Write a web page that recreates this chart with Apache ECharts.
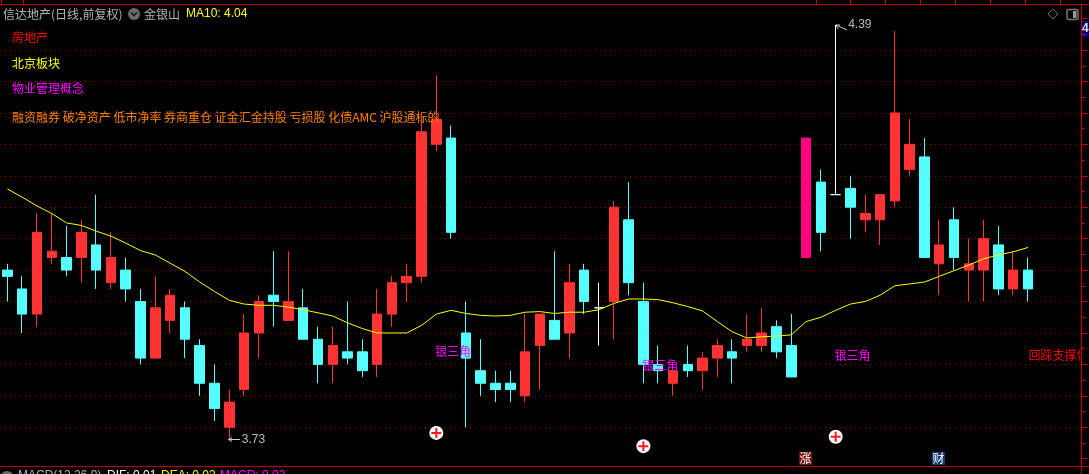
<!DOCTYPE html>
<html><head><meta charset="utf-8">
<style>html,body{margin:0;padding:0;background:#000;overflow:hidden}#c{width:1089px;height:474px}</style>
<script src="https://cdn.jsdelivr.net/npm/echarts@6/dist/echarts.min.js"></script>
</head><body><div id="c"></div>
<script>
const opens=[4.00,3.97,3.93,4.02,4.02,4.02,4.04,3.98,4.00,3.95,3.86,3.92,3.94,3.88,3.82,3.75,3.81,3.90,3.96,3.92,3.94,3.89,3.85,3.87,3.87,3.85,3.93,3.98,3.99,4.20,4.21,3.90,3.84,3.82,3.82,3.80,3.88,3.92,3.90,4.00,3.94,3.95,4.08,3.95,3.85,3.82,3.85,3.84,3.86,3.87,3.88,3.88,3.91,3.88,4.02,4.14,4.12,4.13,4.08,4.08,4.11,4.16,4.18,4.01,4.08,4.00,4.00,4.04,3.97,4.00];
const closes=[3.99,3.93,4.06,4.03,4.00,4.06,4.00,4.02,3.97,3.86,3.94,3.96,3.89,3.82,3.78,3.79,3.90,3.95,3.95,3.95,3.89,3.85,3.88,3.86,3.84,3.93,3.98,3.99,4.22,4.24,4.06,3.86,3.82,3.81,3.81,3.87,3.93,3.89,3.98,3.95,3.94,4.10,3.98,3.85,3.84,3.84,3.84,3.86,3.88,3.86,3.89,3.90,3.87,3.83,4.21,4.06,4.12,4.10,4.09,4.12,4.25,4.20,4.02,4.04,4.02,4.01,4.05,3.97,4.00,3.97];
const lows=[3.95,3.90,3.91,4.01,3.99,3.98,3.97,3.97,3.95,3.85,3.86,3.90,3.86,3.80,3.76,3.73,3.80,3.86,3.91,3.92,3.89,3.82,3.82,3.85,3.83,3.83,3.91,3.95,3.98,4.19,4.05,3.75,3.80,3.79,3.79,3.79,3.81,3.89,3.86,3.93,3.88,3.89,3.96,3.82,3.82,3.80,3.83,3.81,3.83,3.82,3.87,3.87,3.86,3.83,4.02,4.03,4.12,4.05,4.06,4.04,4.10,4.15,4.02,3.96,4.00,3.95,3.95,3.96,3.96,3.95];
const highs=[4.01,3.99,4.09,4.09,4.07,4.08,4.12,4.06,4.02,3.97,3.99,3.97,3.95,3.89,3.85,3.81,3.93,3.96,4.03,4.03,3.97,3.91,3.91,3.95,3.89,3.97,3.99,4.01,4.25,4.31,4.23,3.95,3.89,3.84,3.84,3.93,3.93,4.03,4.01,4.01,3.98,4.11,4.14,3.98,3.88,3.84,3.88,3.87,3.89,3.89,3.93,3.94,3.92,3.93,4.21,4.16,4.39,4.15,4.12,4.12,4.38,4.24,4.21,4.08,4.10,4.05,4.08,4.07,4.03,4.02];
const ma10=[4.129,4.116,4.102,4.090,4.075,4.071,4.062,4.054,4.043,4.031,4.024,4.011,3.998,3.981,3.966,3.952,3.946,3.944,3.944,3.941,3.937,3.932,3.927,3.916,3.907,3.900,3.900,3.900,3.912,3.930,3.936,3.931,3.928,3.927,3.928,3.933,3.934,3.931,3.933,3.933,3.937,3.947,3.954,3.954,3.953,3.948,3.942,3.935,3.918,3.902,3.892,3.894,3.895,3.897,3.918,3.925,3.936,3.946,3.950,3.960,3.975,3.978,3.981,3.990,3.999,4.008,4.018,4.024,4.029,4.036];
const limitUpIndex=[54];
const dojiIndex=[40,56];
const plusIndex=[29,43,56];
const plusPrice=[3.741,3.720,3.735];
const triangleIndex=[30,44,57];
const trianglePrice=[3.871,3.848,3.865];
const triangleLabel='银三角';
const supportIndex=[69];
const supportPrice=[3.865];
const supportLabel='回踩支撑位';
const extremeIndex=[15,56];
const extremePrice=[3.73,4.39];
const extremeLabel=['3.73','4.39'];
const sectors=[['房地产','#ff0000',37],['北京板块','#ffff00',63],['物业管理概念','#ff00ff',88],['融资融券 破净资产 低市净率 券商重仓 证金汇金持股 亏损股 化债AMC 沪股通标的','#ff8000',117]];
const topTicks=[1,23,816,850,885,920,955,990,1025,1060];

const FONT='"Noto Sans CJK SC",sans-serif';
const LATIN='"Liberation Sans",sans-serif';
const RED='#ff3333',CYAN='#55ffff',FRAME='#c00000';
const bands=73;
const cats=Array.from({length:bands},(_,i)=>String(i));
const candleData=opens.map((o,i)=>{
  const item={value:[o,closes[i],lows[i],highs[i]]};
  if(limitUpIndex.includes(i)) item.itemStyle={color:'#ff0080',borderColor:'#ff0080',color0:'#ff0080',borderColor0:'#ff0080'};
  if(dojiIndex.includes(i)) item.itemStyle={color:'#ffffff',color0:'#ffffff',borderColor:'#ffffff',borderColor0:'#ffffff',borderColorDoji:'#ffffff'};
  return item;
});
const txt=(x,y,text,fill,size,extra)=>({type:'text',z:60,silent:true,x,y,style:Object.assign({text,fill,font:(size||12)+'px '+FONT,textVerticalAlign:'middle'},extra||{})});
const line=(x1,y1,x2,y2,stroke,w)=>({type:'line',z:70,silent:true,shape:{x1,y1,x2,y2},style:{stroke,lineWidth:w||1}});

const graphics=[
  {type:'rect',z:50,silent:true,shape:{x:1082,y:0,width:7,height:474},style:{fill:'#000'}},
  line(0,4.5,1089,4.5,FRAME,1.2),
  line(0,466.5,1089,466.5,FRAME,1.2),
  line(1081.5,4,1081.5,474,FRAME,1.2),
  ...topTicks.map(x=>line(x+.5,0,x+.5,4,FRAME,1)),
  txt(3,14,'信达地产(日线,前复权)','#b4b4b4',12),
  {type:'circle',z:60,silent:true,shape:{cx:134,cy:14,r:6},style:{fill:'#6a6a6a'}},
  {type:'polyline',z:61,silent:true,shape:{points:[[131,12.5],[134,15.5],[137,12.5]]},style:{stroke:'#111',lineWidth:1.4,fill:'none'}},
  txt(144,14,'金银山','#b4b4b4',12),
  txt(186,14,'MA10: 4.04','#ffff00',12,{font:'12px '+LATIN}),
  ...sectors.map(s=>txt(12,s[2],s[0],s[1],12)),
  {type:'polygon',z:60,silent:true,shape:{points:[[1053,9],[1058,14],[1053,19],[1048,14]]},style:{stroke:'#666',fill:'none',lineWidth:1}},
  {type:'rect',z:60,silent:true,shape:{x:1067,y:9.5,width:11,height:10,r:2},style:{stroke:'#777',fill:'none',lineWidth:1.5}},
  {type:'rect',z:60,silent:true,shape:{x:1073,y:11,width:3.5,height:7},style:{fill:'#999'}},
  {type:'rect',z:72,silent:true,shape:{x:1082,y:21,width:7,height:16},style:{fill:'#000080'}},
  Object.assign(txt(1082,29,'4','#dddddd',12,{font:'bold 12px '+LATIN}),{z:73}),
  line(836,25,847,30,'#cccccc',1),
  line(836,25,840,25,'#cccccc',1),
  line(836,25,838,29,'#cccccc',1),
  line(228.5,439.5,240,439.5,'#cccccc',1),
  line(228.5,439.5,232,437.5,'#cccccc',1),
  line(228.5,439.5,232,441.5,'#cccccc',1),
  {type:'rect',z:60,silent:true,shape:{x:799,y:452,width:13,height:13},style:{fill:'#7a1010'}},
  txt(805.5,458.5,'涨','#ffffff',12,{textAlign:'center'}),
  {type:'rect',z:60,silent:true,shape:{x:932,y:452,width:13,height:13},style:{fill:'#103a70'}},
  txt(938.5,458.5,'财','#ffffff',12,{textAlign:'center'}),
  {type:'circle',z:60,silent:true,shape:{cx:7,cy:478,r:7},style:{fill:'#6a6a6a'}},
  txt(18,476,'MACD(12,26,9)','#b4b4b4',12,{font:'12px '+LATIN}),
  txt(107,476,'DIF: 0.01','#ffffff',12,{font:'12px '+LATIN}),
  txt(161,476,'DEA: 0.02','#ffff00',12,{font:'12px '+LATIN}),
  txt(220,476,'MACD: 0.02','#ff00ff',12,{font:'12px '+LATIN})
];

const hidden={color:'transparent',opacity:1};
const chart=echarts.init(document.getElementById('c'),null,{renderer:'canvas'});
chart.setOption({
  animation:false,
  backgroundColor:'#000',
  grid:{left:-1.4,width:bands*14.81,top:18.6,height:440.1,containLabel:false,show:false},
  xAxis:{type:'category',data:cats,boundaryGap:true,axisLine:{show:false},axisTick:{show:false},axisLabel:{show:false},splitLine:{show:false}},
  yAxis:[
    {type:'value',min:3.70,max:4.40,interval:0.05,position:'right',axisLine:{show:false},axisTick:{show:false},axisLabel:{show:false},
     splitLine:{show:true,showMinLine:false,showMaxLine:false,lineStyle:{color:'#9c0000',type:[1,4],width:1}}},
    {type:'value',min:3.70,max:4.40,interval:0.05,position:'right',offset:2,z:80,axisLine:{show:false},
     axisTick:{show:true,length:6,lineStyle:{color:FRAME}},
     minorTick:{show:true,splitNumber:2,length:3,lineStyle:{color:FRAME}},
     axisLabel:{show:false},splitLine:{show:false}}
  ],
  graphic:graphics,
  series:[
    {type:'candlestick',name:'信达地产',barWidth:10,z:3,data:candleData,
     itemStyle:{color:RED,color0:CYAN,borderColor:RED,borderColor0:CYAN,borderWidth:1}},
    {type:'line',name:'MA10',data:ma10,z:4,showSymbol:false,symbol:'none',smooth:false,lineStyle:{color:'#ffff00',width:1}},
    {type:'scatter',z:5,symbol:'circle',symbolSize:14,itemStyle:{color:'#ffffff',opacity:1},
     data:plusIndex.map((x,i)=>[x,plusPrice[i]])},
    {type:'scatter',z:6,symbol:'path://M4,0H6V4H10V6H6V10H4V6H0V4H4Z',symbolSize:10,itemStyle:{color:'#ff1a1a',opacity:1},
     data:plusIndex.map((x,i)=>[x,plusPrice[i]])},
    {type:'scatter',z:7,symbolSize:1,itemStyle:hidden,
     label:{show:true,position:'inside',offset:[2,0],formatter:triangleLabel,color:'#ff00ff',fontFamily:FONT,fontSize:12},
     data:triangleIndex.map((x,i)=>[x,trianglePrice[i]])},
    {type:'scatter',z:7,symbolSize:1,itemStyle:hidden,
     label:{show:true,position:'right',distance:0,formatter:supportLabel,color:'#ff0000',fontFamily:FONT,fontSize:12},
     data:supportIndex.map((x,i)=>[x,supportPrice[i]])},
    {type:'scatter',z:7,symbolSize:1,itemStyle:hidden,
     label:{show:true,position:'right',distance:12,color:'#bbbbbb',fontFamily:LATIN,fontSize:12,
       formatter:p=>extremeLabel[p.dataIndex]},
     data:extremeIndex.map((x,i)=>[x,extremePrice[i]])}
  ]
});
</script></body></html>
